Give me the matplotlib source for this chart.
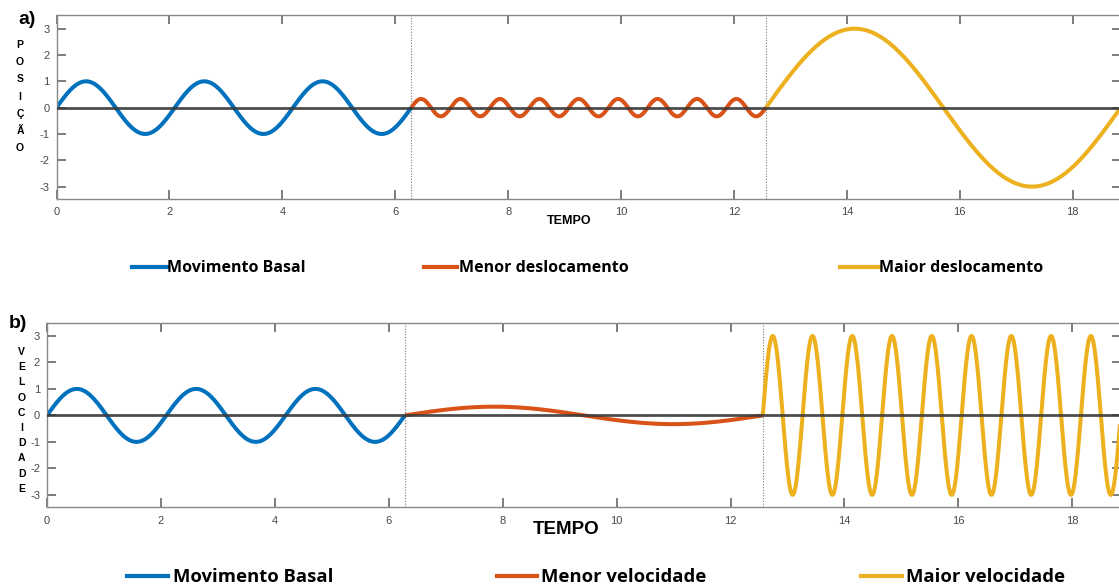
import numpy as np
import matplotlib
matplotlib.use("Agg")
import matplotlib.pyplot as plt
from matplotlib.lines import Line2D

plt.rcParams["axes.unicode_minus"] = False
plt.rcParams["font.family"] = ["Liberation Sans", "DejaVu Sans"]

# Trechos do movimento (limites em t), amplitude e frequencia
trechos = [(0, 2 * np.pi), (2 * np.pi, 4 * np.pi), (4 * np.pi, 6 * np.pi)]
cores = ["#0072BD", "#D95319", "#EDB120"]

pos_amp = [1.0, 0.33, 3.0]
pos_freq = [3, 9, 1]
vel_amp = [1.0, 0.33, 3.0]
vel_freq = [3, 1, 9]

leg_pos = ["Movimento Basal", "Menor deslocamento", "Maior deslocamento"]
leg_vel = ["Movimento Basal", "Menor velocidade", "Maior velocidade"]

xticks = [0, 2, 4, 6, 8, 10, 12, 14, 16, 18]
yticks = [-3, -2, -1, 0, 1, 2, 3]

W, H = 1119, 587
fig = plt.figure(figsize=(W / 100, H / 100), dpi=100)


def fx(px):
    return px / W


def fy(py):
    return 1 - py / H


def painel(ax, amp, freq, ticksize):
    for (t0, t1), a, f, c in zip(trechos, amp, freq, cores):
        t = np.linspace(t0, t1, 800)
        ax.plot(t, a * np.sin(f * (t - t0)), color=c, lw=2.9, zorder=2,
                solid_capstyle="butt")
    ax.axhline(0, color="#3a3a3a", lw=2, alpha=0.9, zorder=3)
    for (t0, t1) in trechos[1:]:
        ax.axvline(t0, color="#777777", lw=0.8, ls=(0, (1, 1.5)), zorder=1)
    ax.set_xlim(0, 6 * np.pi)
    ax.set_ylim(-3.47, 3.5)
    ax.set_xticks(xticks)
    ax.set_yticks(yticks)
    ax.tick_params(direction="in", top=True, right=True, length=6.5,
                   width=1.2, color="#666666", labelcolor="#484848",
                   labelsize=ticksize)
    ax.tick_params(axis="x", pad=6)
    ax.tick_params(axis="y", pad=5)
    for s in ax.spines.values():
        s.set_color("#888888")
        s.set_linewidth(1)


def legenda(itens, linhas, y, size):
    for txt, (x0, x1, xt), c in zip(itens, linhas, cores):
        fig.add_artist(Line2D([fx(x0), fx(x1)], [fy(y), fy(y)], color=c,
                              lw=3, transform=fig.transFigure))
        fig.text(fx(xt), fy(y + 1), txt, fontsize=size, fontweight="bold",
                 family="Open Sans", ha="left", va="center", color="black")


# a) posicao
ax1 = fig.add_axes([fx(56.5), fy(199), fx(1120.7 - 56.5), (199 - 15.5) / H])
painel(ax1, pos_amp, pos_freq, 8)
fig.text(fx(569), fy(221), "TEMPO", fontsize=9, fontweight="bold",
         ha="center", va="center")
fig.text(fx(27), fy(19), "a)", fontsize=14, fontweight="bold",
         ha="center", va="center")
for i, ch in enumerate("POSIÇÃO"):
    fig.text(fx(20), fy(45 + 17.2 * i), ch, fontsize=7.5, fontweight="bold",
             ha="center", va="center")
legenda(leg_pos, [(132, 167, 167), (424, 457, 459), (840, 879, 879)],
        267, 11.5)

# b) velocidade
ax2 = fig.add_axes([fx(47), fy(507.3), fx(1120.7 - 47), (507.3 - 322.7) / H])
painel(ax2, vel_amp, vel_freq, 8)
fig.text(fx(566), fy(530), "TEMPO", fontsize=13.5, fontweight="bold",
         ha="center", va="center")
fig.text(fx(18), fy(323), "b)", fontsize=14, fontweight="bold",
         ha="center", va="center")
for i, ch in enumerate("VELOCIDADE"):
    fig.text(fx(21.7), fy(352 + 15.2 * i), ch, fontsize=7.5, fontweight="bold",
             ha="center", va="center")
legenda(leg_vel, [(127, 168, 173), (497, 537, 541), (861, 902, 906)],
        576, 13.3)

fig.savefig("out.png", dpi=100)
